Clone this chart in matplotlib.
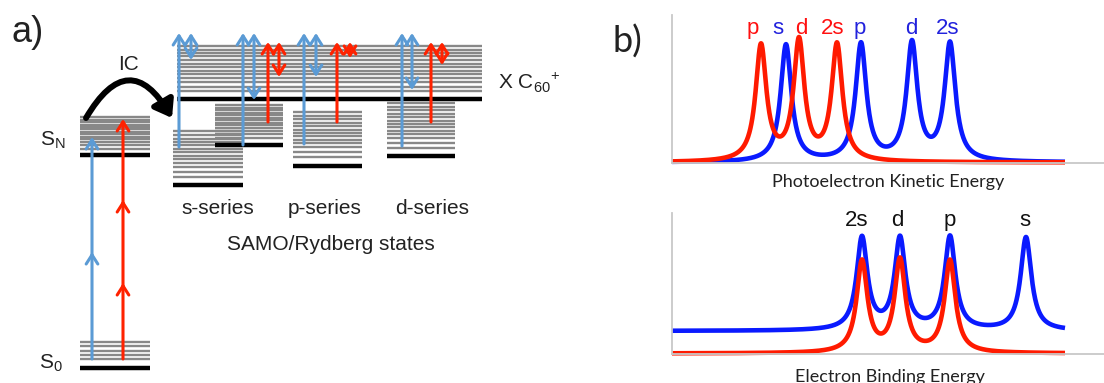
import numpy as np
import matplotlib
matplotlib.use("Agg")
import matplotlib.pyplot as plt
from matplotlib.patches import FancyArrowPatch

plt.rcParams['font.family'] = ['Liberation Sans', 'DejaVu Sans']
plt.rcParams['mathtext.fontset'] = 'custom'
plt.rcParams['mathtext.rm'] = 'Liberation Sans'

# ---------------- data: panel a) energy-level scheme (schematic energies, px units) ----
level_names = ['S0', 'SN', 'X', 's1', 's2', 'p', 'd']
level_ground = [368, 155, 99, 185, 145, 166, 156]      # thick black origin line
level_band_bottom = [359, 149, 91, 177, 138, 157, 148]  # lowest grey line
level_band_top = [342, 117, 46, 131, 105, 112, 103]     # highest grey line
level_x_left = [80, 80, 177, 173, 215, 293, 387]
level_x_right = [150, 150, 482, 243, 283, 362, 455]
band_fractions_S0 = [0, 0.25, 0.5, 0.75, 1.0]
band_fractions_ryd = [0, 0.11, 0.22, 0.31, 0.385, 0.46, 0.535, 0.61, 0.685,
                      0.76, 0.835, 0.91, 1.0]
band_fractions_cont = [0, 0.1, 0.2, 0.29, 0.37, 0.45, 0.53, 0.61, 0.69, 0.77,
                       0.85, 0.92, 1.0]

# excitation arrows: (x, y_start, y_end, colour, kind)
arrow_x = [92, 123, 179, 191, 243, 254, 268, 279, 304, 316, 337, 350, 402, 412, 431, 442]
arrow_y0 = [359, 359, 147, 60, 145, 100, 122, 77, 144, 77, 122, 58, 146, 90, 122, 65]
arrow_y1 = [137, 119, 33, 33, 33, 33, 42, 42, 33, 33, 42, 42, 33, 33, 42, 42]
arrow_col = ['b', 'r', 'b', 'b', 'b', 'b', 'r', 'r', 'b', 'b', 'r', 'r', 'b', 'b', 'r', 'r']
arrow_kind = ['->', '->', '->', '<->', '->', '<->', '->', '<->',
              '->', '<->', '->', '<->', '->', '<->', '->', '<->']
mid_head_x = [92, 123, 123]
mid_head_y = [252, 200, 283]
mid_head_col = ['b', 'r', 'r']

series_labels = ['s-series', 'p-series', 'd-series']
series_label_x = [218, 325, 432]

# ---------------- data: panel b) spectra ----------------
peak_width = 6.5
pke_red_labels = ['p', 'd', '2s']
pke_red_centers = [89, 127, 165]
pke_red_heights = [115, 119, 116]
pke_blue_labels = ['s', 'p', 'd', '2s']
pke_blue_centers = [114, 189, 240, 278]
pke_blue_heights = [117, 117, 117, 117]

be_labels = ['2s', 'd', 'p', 's']
be_blue_centers = [190, 228, 278, 354]
be_blue_heights = [92, 91, 93, 93]
be_blue_offset = 23
be_red_centers = [190, 228, 278]
be_red_heights = [91, 92, 92]

# ---------------- figure ----------------
W, H = 1104, 383
fig = plt.figure(figsize=(W / 100, H / 100), dpi=100)
ax = fig.add_axes([0, 0, 1, 1])
ax.set_xlim(0, W)
ax.set_ylim(H, 0)
ax.axis('off')

BLUE_A = '#5b9bd5'
RED_A = '#ff2200'
GREY = '#888888'
TXT = '#222222'

for i, name in enumerate(level_names):
    x0, x1 = level_x_left[i], level_x_right[i]
    if name == 'S0':
        fr = band_fractions_S0
    elif name == 'X':
        fr = band_fractions_cont
    else:
        fr = band_fractions_ryd
    lo, hi = level_band_bottom[i], level_band_top[i]
    for f in fr:
        y = lo + (hi - lo) * f
        ax.plot([x0, x1], [y, y], color=GREY, lw=1.7, solid_capstyle='butt', zorder=2)
    ax.plot([x0, x1], [level_ground[i]] * 2, color='black', lw=3.2,
            solid_capstyle='butt', zorder=3)

cmap = {'b': BLUE_A, 'r': RED_A}
for x, y0, y1, c, k in zip(arrow_x, arrow_y0, arrow_y1, arrow_col, arrow_kind):
    style = k + ',head_length=0.55,head_width=0.35'
    a = FancyArrowPatch((x, y0), (x, y1), arrowstyle=style, mutation_scale=12,
                        color=cmap[c], lw=2.2, shrinkA=0, shrinkB=0, zorder=5)
    ax.add_patch(a)
for x, y, c in zip(mid_head_x, mid_head_y, mid_head_col):
    a = FancyArrowPatch((x, y + 6), (x, y), arrowstyle='->,head_length=0.55,head_width=0.35',
                        mutation_scale=12, color=cmap[c], lw=2.2, shrinkA=0, shrinkB=0, zorder=5)
    ax.add_patch(a)

# IC curved arrow
ic = FancyArrowPatch((86, 118), (172, 118), connectionstyle='arc3,rad=-0.85',
                     arrowstyle='-|>,head_length=0.7,head_width=0.5', mutation_scale=14,
                     color='black', lw=4.3, shrinkA=0, shrinkB=0, zorder=6)
ax.add_patch(ic)
ax.text(128, 64, 'IC', fontsize=15, color=TXT, ha='center', va='center')

ax.text(28, 32, 'a)', fontsize=26, color=TXT, ha='center', va='center')
ax.text(627, 42, 'b)', fontsize=26, color=TXT, ha='center', va='center',
        family=['Lato', 'DejaVu Sans'])
ax.text(53, 140, r'$\mathregular{S_N}$', fontsize=15, color=TXT, ha='center', va='center')
ax.text(51, 363, r'$\mathregular{S_0}$', fontsize=15, color=TXT, ha='center', va='center')
ax.text(498, 83, r'X C$_\mathregular{60}$$^\mathregular{+}$', fontsize=15, color=TXT,
        ha='left', va='center')
for lab, x in zip(series_labels, series_label_x):
    ax.text(x, 208, lab, fontsize=15, color=TXT, ha='center', va='center')
ax.text(331, 245, 'SAMO/Rydberg states', fontsize=15, color=TXT, ha='center', va='center')


# ---------------- spectra ----------------
def lorentz_sum(x, centers, heights):
    y = np.zeros_like(x)
    for c, h in zip(centers, heights):
        y += h * peak_width ** 2 / ((x - c) ** 2 + peak_width ** 2)
    return y


def make_axes(top_px, bottom_px):
    left = 672
    a = fig.add_axes([left / W, 1 - bottom_px / H, (W - left) / W, (bottom_px - top_px) / H])
    a.set_xlim(0, W - left)
    a.set_ylim(0, bottom_px - top_px)
    a.patch.set_alpha(0)
    for s in ['top', 'right']:
        a.spines[s].set_visible(False)
    for s in ['left', 'bottom']:
        a.spines[s].set_color('#c8c8c8')
        a.spines[s].set_linewidth(1.3)
    a.set_xticks([])
    a.set_yticks([])
    return a


SPEC_BLUE = '#0a1aff'
SPEC_RED = '#ff1a00'
LAB_BLUE = '#2222dd'
LAB_RED = '#ff1010'
xs = np.linspace(0, 393, 1200)

ax1 = make_axes(15, 163)
ax1.plot(xs, 0.5 + lorentz_sum(xs, pke_blue_centers, pke_blue_heights), color=SPEC_BLUE,
         lw=3.3, clip_on=False, solid_capstyle='butt')
ax1.plot(xs, 0.5 + lorentz_sum(xs, pke_red_centers, pke_red_heights), color=SPEC_RED,
         lw=3.3, clip_on=False, solid_capstyle='butt')
red_off = [-8, 2, -4]
blue_off = [-8, -1, -1, -2]
for lab, c, o in zip(pke_red_labels, pke_red_centers, red_off):
    ax1.text(c + o, 135, lab, fontsize=16, color=LAB_RED, ha='center', va='center')
for lab, c, o in zip(pke_blue_labels, pke_blue_centers, blue_off):
    ax1.text(c + o, 135, lab, fontsize=16, color=LAB_BLUE, ha='center', va='center')
ax1.text(216, -19, 'Photoelectron Kinetic Energy', fontsize=13, color='#222222',
         ha='center', va='center', family=['Lato', 'DejaVu Sans'], clip_on=False)

ax2 = make_axes(213, 354)
ax2.plot(xs, be_blue_offset + lorentz_sum(xs, be_blue_centers, be_blue_heights),
         color=SPEC_BLUE, lw=3.3, clip_on=False, solid_capstyle='butt')
ax2.plot(xs, 0.5 + lorentz_sum(xs, be_red_centers, be_red_heights),
         color=SPEC_RED, lw=3.3, clip_on=False, solid_capstyle='butt')
be_off = [-5, -3, 0, -1]
for lab, c, o in zip(be_labels, be_blue_centers, be_off):
    ax2.text(c + o, 133, lab, fontsize=16, color='#111111', ha='center', va='center')
ax2.text(218, -23, 'Electron Binding Energy', fontsize=13, color='#222222',
         ha='center', va='center', family=['Lato', 'DejaVu Sans'], clip_on=False)

fig.savefig('out.png', dpi=100)
